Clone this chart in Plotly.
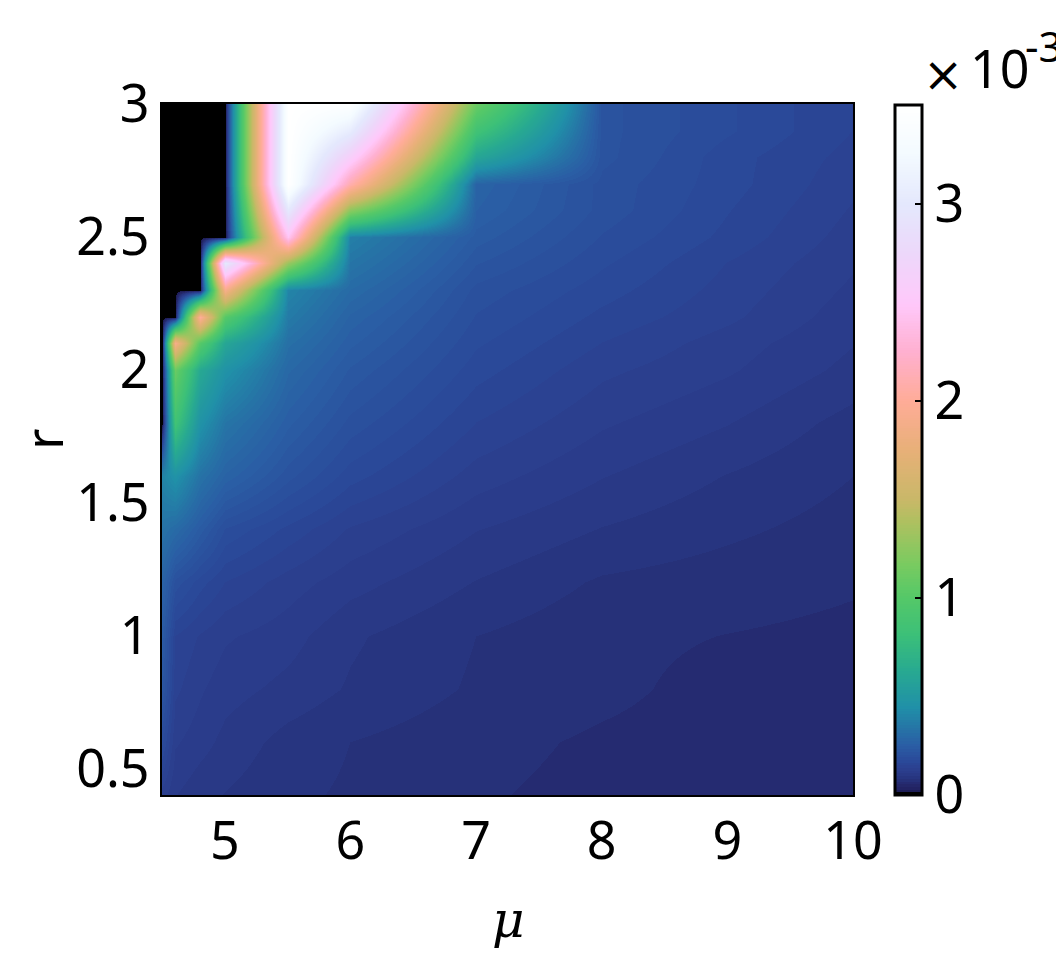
import plotly.graph_objects as go

# grid (mu across, r down), values in units of 1e-3
mu = [4.5, 4.6, 4.8, 5, 5.5, 6, 7, 8, 9, 10]
r = [3.0, 2.9, 2.8, 2.7, 2.6, 2.5, 2.4, 2.3, 2.2, 2.1, 2.0, 1.8, 1.6, 1.4, 1.2, 1.0, 0.8, 0.6, 0.4]
z = [
    [0, 0, 0, 0, 3.5, 3.45, 1.1, .21, .18, .15],
    [0, 0, 0, 0, 3.5, 3.05, .85, .21, .18, .15],
    [0, 0, 0, 0, 3.5, 2.6, .6, .21, .17, .145],
    [0, 0, 0, 0, 3.5, 2.1, .27, .2, .17, .14],
    [0, 0, 0, 0, 3.0, 1.25, .26, .2, .165, .135],
    [0, 0, 0, 0, 2.45, .38, .24, .19, .16, .13],
    [0, 0, 0, 3.0, 1.3, .34, .22, .18, .15, .125],
    [0, 0, 0, 1.9, .4, .3, .2, .17, .145, .12],
    [0, 0, 2.0, 1.0, .36, .27, .19, .16, .14, .115],
    [0, 1.9, 1.0, .6, .32, .25, .18, .15, .13, .11],
    [0, 1.1, .62, .46, .29, .23, .17, .14, .125, .105],
    [0, .85, .46, .34, .25, .2, .15, .125, .11, .09],
    [.4, .46, .33, .27, .21, .17, .13, .11, .095, .082],
    [.33, .3, .24, .19, .16, .135, .11, .095, .085, .076],
    [.27, .2, .17, .15, .13, .115, .095, .08, .075, .07],
    [.24, .15, .135, .125, .115, .098, .082, .072, .068, .065],
    [.22, .14, .125, .115, .105, .094, .08, .072, .063, .058],
    [.18, .125, .115, .105, .09, .082, .073, .066, .062, .06],
    [.13, .11, .1, .095, .085, .08, .07, .064, .06, .055],
]
x_ticks = [5, 6, 7, 8, 9, 10]
y_ticks = [0.5, 1, 1.5, 2, 2.5, 3]
y_labels = ['0.5', '1', '1.5', '2', '2.5', '3']
cbar_ticks = [0, 1, 2, 3]

zmax = 3.5
# colour stops: value on the colourbar, colour
stop_vals = [0, .015, .05, .06, .08, .1, .13, .17, .25, .44, .63, .81, 1.0, 1.17, 1.39, 1.49, 1.75, 2.0, 2.25, 2.49, 2.76, 3.0, 3.27, 3.5]
stop_cols = ['#000000', '#20205e', '#25296d', '#262e75', '#27347f', '#2a3a88', '#2b4090', '#2a4a9a', '#2a5fa5', '#2090a8', '#28aa90', '#3cc078',
             '#55c868', '#7acb60', '#b0c060', '#c8b868', '#e8b078', '#ffac98', '#ffb0d0', '#ffc8fa',
             '#ecd8fa', '#e4e8fd', '#f4fbff', '#ffffff']


def hex_rgb(c):
    return [int(c[i:i + 2], 16) for i in (1, 3, 5)]


# the original map has a fixed number of levels, which is what makes the bands in the dark blue
levels = 256
colorscale = []
for i in range(levels):
    v = i / (levels - 1) * zmax
    k = 0
    while stop_vals[k + 1] < v:
        k += 1
    t = (v - stop_vals[k]) / (stop_vals[k + 1] - stop_vals[k])
    a, b = hex_rgb(stop_cols[k]), hex_rgb(stop_cols[k + 1])
    rgb = [round(p + (q - p) * t) for p, q in zip(a, b)]
    col = 'rgb(%d,%d,%d)' % tuple(rgb)
    colorscale.append([i / levels, col])
    colorscale.append([(i + 1) / levels, col])

font = 'Noto Sans'
W, H = 1056, 958
left, right, top, bottom = 162, 853, 104, 795
tick_size = 52


def px(x):
    return (x - left) / (right - left)


def py(y):
    return (bottom - y) / (bottom - top)


fig = go.Figure(go.Heatmap(
    x=mu, y=r, z=z,
    zmin=0, zmax=zmax,
    zsmooth='best',
    colorscale=colorscale,
    colorbar=dict(
        x=px(895), xanchor='left', xpad=0,
        y=0, yanchor='bottom', ypad=0,
        len=690 / 691,
        thickness=27, thicknessmode='pixels',
        outlinewidth=3, outlinecolor='black',
        ticks='inside', ticklen=8, tickwidth=2, tickcolor='black',
        tickvals=cbar_ticks,
        tickfont=dict(family=font, size=tick_size, color='black'),
    ),
))

axis = dict(
    showgrid=False, zeroline=False, showline=True, mirror=True,
    linecolor='black', linewidth=2, ticks='',
    tickfont=dict(family=font, size=tick_size, color='black'),
)
note = dict(xref='paper', yref='paper', xanchor='center', yanchor='middle', showarrow=False)
fig.update_layout(
    width=W, height=H,
    margin=dict(l=left, r=W - right, t=top, b=H - bottom, autoexpand=False),
    paper_bgcolor='white', plot_bgcolor='white',
    xaxis=dict(axis, range=[4.5, 10], tickvals=x_ticks, title=None),
    yaxis=dict(axis, range=[0.4, 3], tickvals=y_ticks, ticktext=y_labels, title=None),
    annotations=[
        dict(note, text='<i>\u03bc</i>', x=px(508), y=py(920),
             font=dict(family='DejaVu Serif', size=50, color='black')),
        dict(note, text='r', x=px(42), y=py(440), textangle=-90,
             font=dict(family=font, size=tick_size, color='black')),
        dict(note, text='\u00d7', x=px(943), y=py(74),
             font=dict(family='DejaVu Sans', size=48, color='black')),
        dict(note, text='10', x=px(968), y=py(68), xanchor='left',
             font=dict(family=font, size=tick_size, color='black')),
        dict(note, text='-3', x=px(1023), y=py(45), xanchor='left',
             font=dict(family=font, size=42, color='black')),
    ],
)

fig.write_html("out.html", config={'displayModeBar': False},
               post_script="document.body.style.margin='0';document.body.style.overflow='hidden';")
